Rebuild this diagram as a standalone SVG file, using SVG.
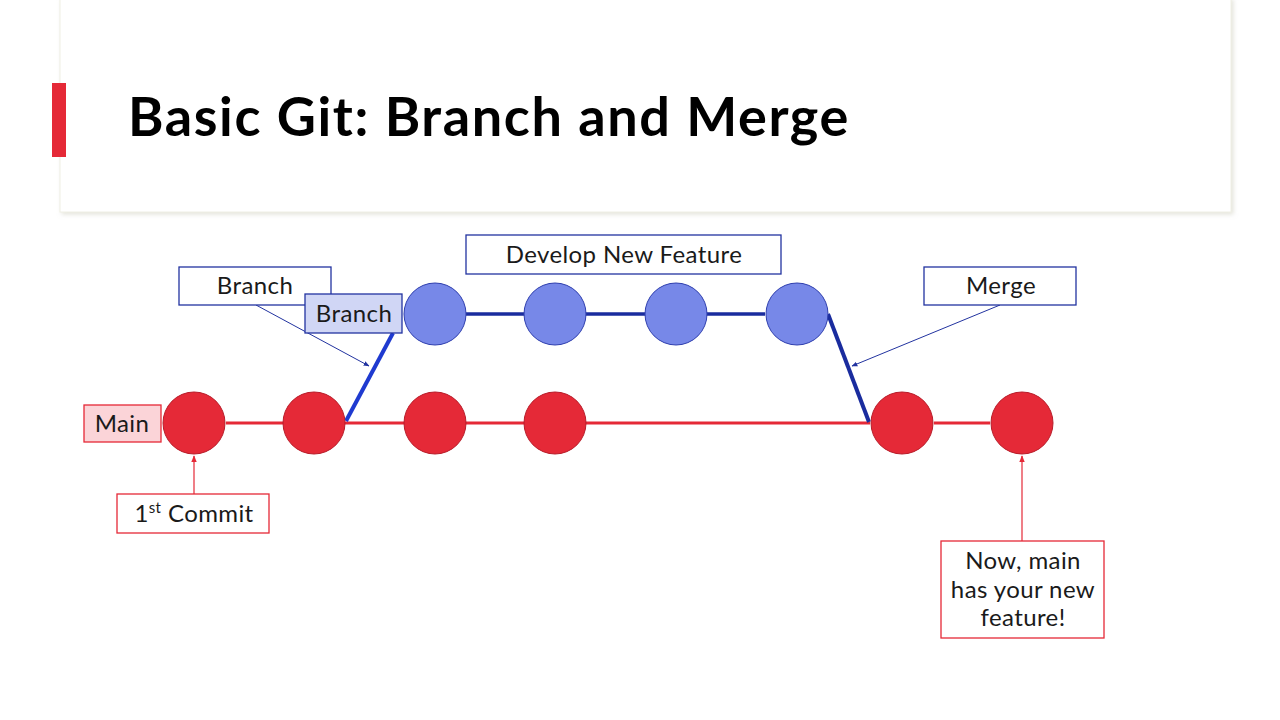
<svg xmlns="http://www.w3.org/2000/svg" width="1280" height="720" viewBox="0 0 1280 720">
<defs>
<style>
.lbl{font-family:Lato,"Noto Sans","Liberation Sans",sans-serif;font-size:24px;letter-spacing:0.4px;fill:#1a1a1a;text-anchor:middle}
.rc{fill:#e52937;stroke:#b81d2a;stroke-width:1}
.bc{fill:#7788e8;stroke:#2f3fae;stroke-width:1}
.bbox{fill:#ffffff;stroke:#2233a0;stroke-width:1.3}
.rbox{fill:#ffffff;stroke:#e52937;stroke-width:1.3}
</style>
<marker id="ab" viewBox="0 0 10 10" refX="9" refY="5" markerWidth="6" markerHeight="6" orient="auto"><path d="M0,1 L10,5 L0,9 Z" fill="#2233a0"/></marker>
<marker id="ar" viewBox="0 0 10 10" refX="9" refY="5" markerWidth="6" markerHeight="6" orient="auto"><path d="M0,1 L10,5 L0,9 Z" fill="#e52937"/></marker>
<filter id="sh" x="-5%" y="-5%" width="110%" height="120%"><feDropShadow dx="2" dy="2" stdDeviation="2" flood-color="#c8c8b8" flood-opacity="0.5"/></filter>
</defs>
<rect width="1280" height="720" fill="#ffffff"/>
<g id="title">
<rect x="60" y="-2" width="1171" height="214" fill="#ffffff" stroke="#efefe4" stroke-width="1" filter="url(#sh)"/>
<rect x="52" y="83" width="14" height="74" fill="#e52937"/>
<text x="128" y="136" font-family="Lato,'Noto Sans','Liberation Sans',sans-serif" font-weight="bold" font-size="54" letter-spacing="1.6" fill="#000000">Basic Git: Branch and Merge</text>
</g>
<g id="connectors">
<line x1="226" y1="423" x2="870" y2="423" stroke="#e52937" stroke-width="3"/>
<line x1="934" y1="423" x2="990" y2="423" stroke="#e52937" stroke-width="3"/>
<line x1="466" y1="314" x2="765" y2="314" stroke="#1a2c9e" stroke-width="3.5"/>
<line x1="346" y1="421" x2="393" y2="333" stroke="#1f3ad0" stroke-width="4"/>
<line x1="828" y1="314" x2="869" y2="422" stroke="#1a2c9e" stroke-width="4"/>
<line x1="256" y1="305" x2="369" y2="366" stroke="#2233a0" stroke-width="1" marker-end="url(#ab)"/>
<line x1="1000" y1="305" x2="852" y2="366" stroke="#2233a0" stroke-width="1" marker-end="url(#ab)"/>
<line x1="194" y1="494" x2="194" y2="456" stroke="#e52937" stroke-width="1.2" marker-end="url(#ar)"/>
<line x1="1022" y1="541" x2="1022" y2="456" stroke="#e52937" stroke-width="1.2" marker-end="url(#ar)"/>
</g>
<g id="main-commits">
<circle id="m1" class="rc" cx="194" cy="423" r="31"/>
<circle id="m2" class="rc" cx="314" cy="423" r="31"/>
<circle id="m3" class="rc" cx="435" cy="423" r="31"/>
<circle id="m4" class="rc" cx="555" cy="423" r="31"/>
<circle id="m5" class="rc" cx="902" cy="423" r="31"/>
<circle id="m6" class="rc" cx="1022" cy="423" r="31"/>
</g>
<g id="feature-commits">
<circle id="f1" class="bc" cx="435" cy="314" r="31"/>
<circle id="f2" class="bc" cx="555" cy="314" r="31"/>
<circle id="f3" class="bc" cx="676" cy="314" r="31"/>
<circle id="f4" class="bc" cx="797" cy="314" r="31"/>
</g>
<g id="main-label">
<rect x="84" y="405" width="77" height="37" fill="#fbd4d8" stroke="#e52937" stroke-width="1.3"/>
<text class="lbl" x="122" y="432">Main</text>
</g>
<g id="branch-callout">
<rect class="bbox" x="179" y="267" width="152" height="38"/>
<text class="lbl" x="255" y="294">Branch</text>
</g>
<g id="branch-label">
<rect x="305" y="294" width="97" height="39" fill="#d0d6f5" stroke="#2233a0" stroke-width="1.3"/>
<text class="lbl" x="354" y="322">Branch</text>
</g>
<g id="develop-label">
<rect class="bbox" x="466" y="235" width="315" height="39"/>
<text class="lbl" x="624" y="263">Develop New Feature</text>
</g>
<g id="merge-label">
<rect class="bbox" x="924" y="267" width="152" height="38"/>
<text class="lbl" x="1001" y="294">Merge</text>
</g>
<g id="first-commit-label">
<rect class="rbox" x="117" y="494" width="152" height="39"/>
<text class="lbl" x="194" y="522">1<tspan font-size="15" dy="-9">st</tspan><tspan dy="9"> Commit</tspan></text>
</g>
<g id="now-label">
<rect class="rbox" x="941" y="541" width="163" height="97"/>
<text class="lbl" x="1023" y="569">Now, main</text>
<text class="lbl" x="1023" y="598">has your new</text>
<text class="lbl" x="1023" y="626">feature!</text>
</g>
</svg>
